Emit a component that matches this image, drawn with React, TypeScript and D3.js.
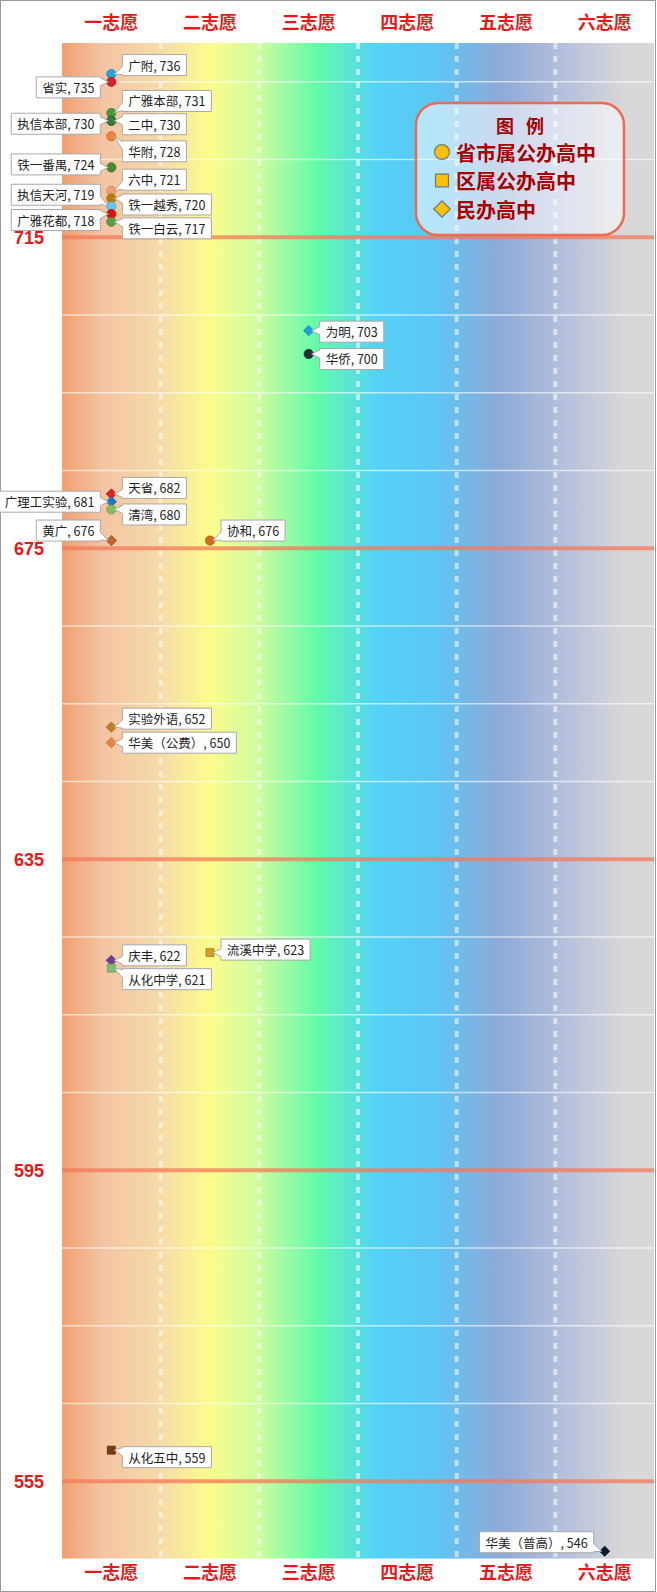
import React, { useEffect, useRef } from "react";
import * as d3 from "d3";

// categories and axis ticks
const categories = ["一志愿", "二志愿", "三志愿", "四志愿", "五志愿", "六志愿"];
const majorTicks = [715, 675, 635, 595, 555];
const scoreDomain = [545, 740];
const legendTypes = ["省市属公办高中", "区属公办高中", "民办高中"];
const legendTitle = ["图", "例"];

// schools
const schools = [
	"广附", "省实", "广雅本部", "执信本部", "二中", "华附", "铁一番禺", "六中", "铁一越秀",
	"执信天河", "广雅花都", "铁一白云", "为明", "华侨", "天省", "广理工实验", "清湾", "黄广",
	"协和", "实验外语", "华美（公费）", "庆丰", "从化中学", "流溪中学", "从化五中", "华美（普高）",
];
const scores = [736, 735, 731, 730, 730, 728, 724, 721, 720, 719, 718, 717, 703, 700, 682, 681, 680, 676, 676, 652, 650, 622, 621, 623, 559, 546];
const choices = [
	"一志愿", "一志愿", "一志愿", "一志愿", "一志愿", "一志愿", "一志愿", "一志愿", "一志愿",
	"一志愿", "一志愿", "一志愿", "三志愿", "三志愿", "一志愿", "一志愿", "一志愿", "一志愿",
	"二志愿", "一志愿", "一志愿", "一志愿", "一志愿", "二志愿", "一志愿", "六志愿",
];
const schoolTypes = [
	"省市属公办高中", "省市属公办高中", "省市属公办高中", "省市属公办高中", "省市属公办高中", "省市属公办高中",
	"省市属公办高中", "省市属公办高中", "省市属公办高中", "省市属公办高中", "省市属公办高中", "省市属公办高中",
	"民办高中", "省市属公办高中", "民办高中", "民办高中", "省市属公办高中", "民办高中",
	"省市属公办高中", "民办高中", "民办高中", "民办高中", "区属公办高中", "区属公办高中", "区属公办高中", "民办高中",
];

// marker colours
const markerColors: Record<string, string> = {
	广附: "#22a6e0", 省实: "#d8202a", 广雅本部: "#4a9a3a", 执信本部: "#2e6a2e", 二中: "#3a7a3a",
	华附: "#f0843a", 铁一番禺: "#4a8a30", 六中: "#f0a070", 铁一越秀: "#b88000", 执信天河: "#60c8f0",
	广雅花都: "#e01010", 铁一白云: "#5aa040", 为明: "#20a0e0", 华侨: "#2a2a3a", 天省: "#e02020",
	广理工实验: "#1a78d0", 清湾: "#80c060", 黄广: "#c8602a", 协和: "#d86a20", 实验外语: "#c08020",
	"华美（公费）": "#f08040", 庆丰: "#704090", 从化中学: "#80c070", 流溪中学: "#d0a020",
	从化五中: "#7a3a10", "华美（普高）": "#0a1a30",
};

// callout placement: side of the point and vertical shift of the box
const calloutPlace: Record<string, [string, number]> = {
	广附: ["R", -9], 省实: ["L", 5.5], 广雅本部: ["R", -12], 执信本部: ["L", 3], 二中: ["R", 3.5],
	华附: ["R", 15], 铁一番禺: ["L", -3], 六中: ["R", -11], 铁一越秀: ["R", 6], 执信天河: ["L", -11.5],
	广雅花都: ["L", 6], 铁一白云: ["R", 6.5], 为明: ["R", 1], 华侨: ["R", 5], 天省: ["R", -6],
	广理工实验: ["L", 0], 清湾: ["R", 5], 黄广: ["L", -10], 协和: ["R", -10], 实验外语: ["R", -8.5],
	"华美（公费）": ["R", 0], 庆丰: ["R", -5], 从化中学: ["R", 11], 流溪中学: ["R", -3],
	从化五中: ["R", 7], "华美（普高）": ["L", -9],
};

const W = 657;
const H = 1592;
const plot = { left: 62, right: 654, top: 43, bottom: 1559 };
const cjk = "'Noto Sans CJK SC', 'Noto Sans', sans-serif";

// diamonds are squares turned 45 degrees
function markerPath(type: string, scale: number) {
	if (type === "区属公办高中") return { d: d3.symbol(d3.symbolSquare, 64 * scale)()!, rot: 0 };
	if (type === "民办高中") return { d: d3.symbol(d3.symbolSquare, 52 * scale)()!, rot: 45 };
	return { d: d3.symbol(d3.symbolCircle, 66 * scale)()!, rot: 0 };
}

function calloutPath(px: number, py: number, side: string, dy: number, w: number, h: number) {
	const gap = 11;
	const x0 = side === "R" ? px + gap : px - gap - w;
	const x1 = x0 + w;
	const cy = py + dy;
	const y0 = cy - h / 2;
	const y1 = cy + h / 2;
	const ty = Math.max(y0 + 5, Math.min(y1 - 5, py));
	const tipX = side === "R" ? px + 3 : px - 3;
	let d;
	if (side === "R") {
		d = `M${x0},${y0}H${x1}V${y1}H${x0}V${ty + 4}L${tipX},${py}L${x0},${ty - 4}Z`;
	} else {
		d = `M${x0},${y0}H${x1}V${ty - 4}L${tipX},${py}L${x1},${ty + 4}V${y1}H${x0}Z`;
	}
	return { d, x0, cy };
}

function draw(ref: SVGSVGElement) {
	const svg = d3.select(ref);
	svg.selectAll("*").remove();

	const x = d3.scaleBand().domain(categories).range([plot.left, plot.right]);
	const y = d3.scaleLinear().domain(scoreDomain).range([plot.bottom, plot.top]);

	const defs = svg.append("defs");
	const bg = defs.append("linearGradient").attr("id", "bgGrad").attr("x1", 0).attr("x2", 1).attr("y1", 0).attr("y2", 0);
	[
		[0, "#f0a070"], [0.07, "#f4c4a4"], [0.17, "#f6dca8"], [0.25, "#fcfc8c"], [0.33, "#d0fca0"],
		[0.43, "#62fca8"], [0.53, "#54d2f6"], [0.63, "#5cc6f4"], [0.74, "#8eaad8"], [0.85, "#b6c0dc"],
		[0.95, "#d8d8d8"], [1, "#d8d8d8"],
	].forEach(([o, c]) => bg.append("stop").attr("offset", o as number).attr("stop-color", c as string));

	// page & border
	svg.append("rect").attr("x", 0.5).attr("y", 0.5).attr("width", W - 2).attr("height", H - 1)
		.attr("fill", "#fff").attr("stroke", "#999");

	// plot background
	svg.append("rect").attr("x", plot.left).attr("y", plot.top)
		.attr("width", plot.right - plot.left).attr("height", plot.bottom - plot.top)
		.attr("fill", "url(#bgGrad)");

	// minor horizontal gridlines every 10 points
	const minor = d3.range(scoreDomain[0], scoreDomain[1], 10).filter((v) => !majorTicks.includes(v));
	svg.append("g").selectAll("line").data(minor).enter().append("line")
		.attr("x1", plot.left).attr("x2", plot.right)
		.attr("y1", (d) => y(d)).attr("y2", (d) => y(d))
		.attr("stroke", "#fff").attr("stroke-opacity", 0.6).attr("stroke-width", 1.5);

	// vertical dashed separators
	svg.append("g").selectAll("line").data(categories.slice(1)).enter().append("line")
		.attr("x1", (d) => x(d)!).attr("x2", (d) => x(d)!)
		.attr("y1", plot.top).attr("y2", plot.bottom)
		.attr("stroke", "#fff").attr("stroke-opacity", 0.55).attr("stroke-width", 4)
		.attr("stroke-dasharray", "6,7");

	// major lines
	svg.append("g").selectAll("line").data(majorTicks).enter().append("line")
		.attr("x1", plot.left).attr("x2", plot.right)
		.attr("y1", (d) => y(d)).attr("y2", (d) => y(d))
		.attr("stroke", "#f47a5a").attr("stroke-opacity", 0.75).attr("stroke-width", 4);

	// axes
	const styleAxis = (g: d3.Selection<SVGGElement, unknown, null, undefined>, size: number) => {
		g.select(".domain").remove();
		g.selectAll("text").attr("fill", "#e81818").attr("font-weight", "bold")
			.attr("font-size", size).attr("font-family", cjk);
	};
	svg.append("g").attr("transform", `translate(0,${plot.top})`)
		.call(d3.axisTop(x).tickSize(0).tickPadding(14))
		.call((g) => styleAxis(g, 18));
	svg.append("g").attr("transform", `translate(0,${plot.bottom})`)
		.call(d3.axisBottom(x).tickSize(0).tickPadding(7))
		.call((g) => styleAxis(g, 18));
	svg.append("g").attr("transform", `translate(${plot.left},0)`)
		.call(d3.axisLeft(y).tickValues(majorTicks).tickSize(0).tickPadding(18))
		.call((g) => {
			styleAxis(g, 18);
			g.selectAll("text").attr("font-family", "'Liberation Sans', Arial, sans-serif");
		});

	// markers
	const pts = schools.map((name, i) => ({
		name,
		score: scores[i],
		choice: choices[i],
		type: schoolTypes[i],
	}));
	svg.append("g").selectAll("path").data(pts).enter().append("path")
		.attr("transform", (d) => `translate(${x(d.choice)! + x.bandwidth() / 2},${y(d.score)}) rotate(${markerPath(d.type, 1).rot})`)
		.attr("d", (d) => markerPath(d.type, 1).d)
		.attr("fill", (d) => markerColors[d.name])
		.attr("stroke", (d) => d3.color(markerColors[d.name])!.darker(0.6).toString())
		.attr("stroke-width", 0.8);

	// callout labels
	const labels = svg.append("g");
	pts.forEach((d) => {
		const px = x(d.choice)! + x.bandwidth() / 2;
		const py = y(d.score);
		const [side, dy] = calloutPlace[d.name];
		const g = labels.append("g");
		const path = g.append("path");
		const text = g.append("text").text(`${d.name}, ${d.score}`)
			.attr("font-size", 12.5).attr("font-family", cjk).attr("fill", "#222")
			.attr("dominant-baseline", "central");
		const tw = (text.node() as SVGTextElement).getComputedTextLength();
		const c = calloutPath(px, py, side, dy, tw + 12, 21);
		path.attr("d", c.d).attr("fill", "#fff").attr("stroke", "#a8a8a8").attr("stroke-width", 1);
		text.attr("x", c.x0 + 6).attr("y", c.cy);
	});

	// legend
	const lg = svg.append("g");
	lg.append("rect").attr("x", 416).attr("y", 103).attr("width", 208).attr("height", 132)
		.attr("rx", 22).attr("fill", "#fff").attr("fill-opacity", 0.55)
		.attr("stroke", "#f06a50").attr("stroke-width", 2.5);
	legendTitle.forEach((ch, i) => {
		lg.append("text").attr("x", 505 + i * 30).attr("y", 125).attr("text-anchor", "middle")
			.attr("dominant-baseline", "central").attr("font-family", cjk).attr("font-weight", "bold")
			.attr("font-size", 18).attr("fill", "#a80000").text(ch);
	});
	legendTypes.forEach((t, i) => {
		const ly = 152 + i * 28.5;
		const m = markerPath(t, 2.6);
		lg.append("path").attr("transform", `translate(442,${ly}) rotate(${m.rot})`)
			.attr("d", m.d)
			.attr("fill", "#ffc000").attr("stroke", "#6a7a8a").attr("stroke-width", 1.2);
		lg.append("text").attr("x", 456).attr("y", ly).attr("dominant-baseline", "central")
			.attr("font-family", cjk).attr("font-weight", "bold").attr("font-size", 20)
			.attr("fill", "#a80000").text(t);
	});
}

export default function App() {
	const ref = useRef<SVGSVGElement>(null);
	useEffect(() => {
		document.body.style.margin = "0";
		if (!ref.current) return;
		draw(ref.current);
	}, []);
	return (
		<svg ref={ref} width={W} height={H} viewBox={`0 0 ${W} ${H}`}
			style={{ position: "absolute", left: 0, top: 0, display: "block" }} />
	);
}
